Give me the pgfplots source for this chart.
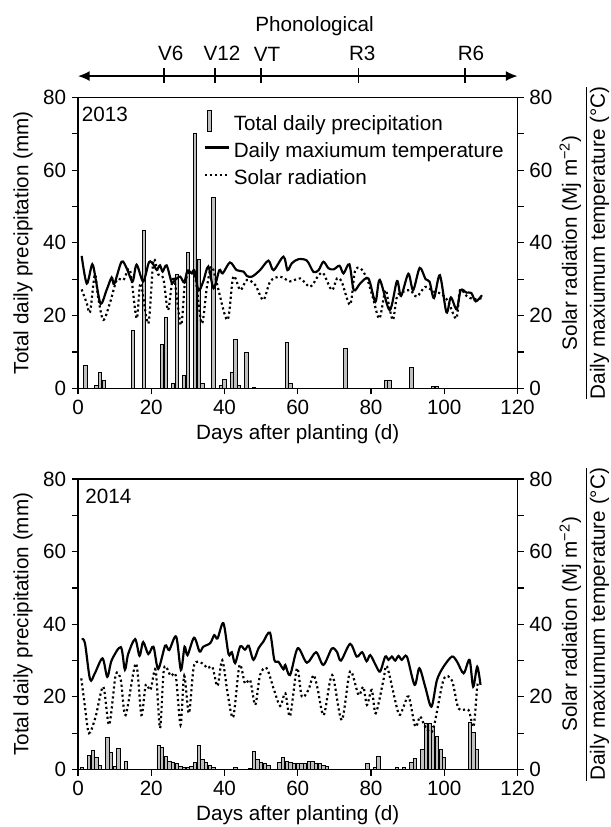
\documentclass[border=0pt]{standalone}
\usepackage{fontspec}
\setmainfont{Liberation Sans}
\usepackage{pgfplots}
\pgfplotsset{compat=1.18}
\usetikzlibrary{arrows.meta}

\pgfplotsset{
  base/.style={
    scale only axis, width=263.7pt,
    xmin=0, xmax=120, ymin=0, ymax=80,
    xtick={0,20,...,120}, ytick={0,20,...,80}, minor ytick={10,30,50,70},
    tick align=outside, major tick length=3.6pt, minor tick length=3.6pt,
    axis line style={line width=0.8pt},
    every tick/.style={line width=0.7pt, black},
    /pgf/number format/assume math mode=true,
  },
  leftax/.style={
    base, xtick pos=left, ytick pos=left, clip=false,
    xlabel={Days after planting (d)},
    ylabel={Total daily precipitation (mm)},
    xlabel style={at={([yshift=-27.6pt]axis description cs:0.5,0)}, anchor=center},
    ylabel style={at={([xshift=-33pt]axis description cs:0,0.5)}, anchor=center, rotate=0},
  },
  rightax/.style={
    base, hide x axis, axis y line*=right, ytick pos=right,
    ylabel={\begin{tabular}{@{}c@{}}Solar radiation (Mj m\textsuperscript{−2})\\[1pt]\hline\rule{0pt}{11pt}Daily maxiumum temperature (°C)\end{tabular}},
    ylabel style={at={([xshift=41pt]axis description cs:1,0.5)}, anchor=center, rotate=0},
  },
  barstyle/.style={ybar, bar width=0.9, fill=black!25, draw=black, line width=0.5pt},
  tempstyle/.style={black, line width=1.3pt, smooth, tension=0.5},
  solarstyle/.style={black, line width=1.3pt, dash pattern=on 1.3pt off 1.7pt, smooth, tension=0.5},
}

\begin{document}
\begin{tikzpicture}[font=\fontsize{12.4}{14.8}\selectfont]
\useasboundingbox (0,0) rectangle (366.6pt,496.2pt);

% ---------------- 2013 ----------------
\begin{axis}[leftax, at={(46.8pt,263.2pt)}, anchor=south west, height=174.6pt,
  legend style={draw=none, fill=none, at={(axis cs:34.2,76.6)}, anchor=north west,
    inner sep=0pt, column sep=2.4pt, row sep=3.5pt,
    nodes={inner sep=0pt, text height=9.3pt, text depth=3.5pt}},
  legend cell align=left]
\addplot[barstyle, legend image code/.code={\draw[fill=black!25,draw=black,line width=0.5pt] (1.8pt,-3.3pt) rectangle (4.2pt,9.1pt);}] coordinates {
(2,6.4)(5,0.8)(6,4.4)(7,2.1)(15,15.9)(18,43.4)(23,12.1)(24,19.5)(26,1.4)(27,31.3)
(29,3.5)(30,37.4)(32,70.0)(33,35.5)(34,1.4)(37,52.6)(39,0.9)(40,2.5)(42,4.3)(43,13.4)
(44,0.9)(46,9.8)(48,0.3)(57,12.7)(58,1.4)(73,10.9)(84,2.3)(85,2.3)(91,5.7)(97,0.6)(98,0.6)};
\addlegendentry{Total daily precipitation}
\addplot[tempstyle, legend image code/.code={\draw[black,line width=1.3pt] (0pt,3.2pt) -- (14.4pt,3.2pt);}] coordinates {
(1,36.4)(2.4,28.8)(3.9,34.1)(4.9,29.6)(6.2,23.2)(7.8,27.0)(9.2,30.5)(9.9,28.7)(11.9,34.8)
(13.3,33.0)(14.9,29.4)(16,34.0)(17.8,29.4)(19.4,34.7)(20.6,34.0)(21.5,32.6)(22.4,33.8)
(23.1,32.1)(24.2,33.8)(25.6,29.1)(26.5,29.8)(27.9,30.7)(29,29.1)(29.9,32.4)(31.1,31.6)
(31.8,32.4)(32.9,26.9)(34.2,29.4)(35.6,33.5)(37,27.5)(38.6,32.5)(39.5,31.6)(41.5,34.6)
(43.3,32.5)(45.2,32.1)(46.1,30.9)(47.5,30.7)(49.7,32.5)(52,35.1)(53.4,32.5)(56.1,36.2)
(57.2,32.5)(58.4,34.4)(60.2,35.5)(62.5,35.1)(64.3,32.0)(65.7,32.5)(67,34.8)(68.4,33.0)
(69.8,32.7)(71.4,33.7)(72.5,31.6)(74.1,34.1)(75.3,27.0)(77.1,28.9)(79.3,30.2)(81.2,23.8)
(82.4,29.8)(85.1,21.5)(87.1,29.5)(88.2,25.4)(90.2,31.5)(91.5,27.0)(93.3,33.1)(94.9,30.0)
(96.0,29.3)(97.2,24.8)(98.8,31.1)(100.6,20.9)(101.8,25.0)(103.4,21.7)(104.5,27.0)
(106.1,26.3)(107.4,26.2)(108.6,23.9)(110.3,25.6)};
\addlegendentry{Daily maxiumum temperature}
\addplot[solarstyle, legend image code/.code={\draw[black,line width=1.3pt,dash pattern=on 1.3pt off 1.7pt] (0pt,3.2pt) -- (14.4pt,3.2pt);}] coordinates {
(1,27.2)(2.4,23.4)(3.3,21.0)(4.6,31.3)(5.5,25)(6.9,18.8)(8.7,23.4)(10.6,29.8)(12.4,29.8)
(14.2,32.5)(16,19.2)(17.1,28.9)(19.2,17.8)(20.6,35.1)(21.9,31.3)(23.3,30.2)(24.6,21.5)
(26.1,30.7)(28.1,17.4)(29.2,28.9)(30.6,32.1)(32,30.7)(33.8,17.8)(35.2,27.9)(36.5,33.5)
(37.9,28.9)(40.8,18.8)(42.4,30.7)(44.3,27.0)(46.1,29.8)(48.4,28.4)(50.6,24.3)(52.5,29.4)
(55.2,30.7)(57.9,29.4)(60.7,30.2)(63.4,27.9)(65.7,31.1)(67,31.6)(69.3,27.0)(70.7,30.2)
(72,29.3)(74.3,23.0)(75.6,32.1)(77.1,33.0)(78.9,30.2)(80.5,25)(82.3,19.2)(83.9,27.0)
(84.8,23.4)(86,18.8)(87.1,25.2)(88.9,26.6)(90.7,27.0)(92.5,25.2)(94.8,27.9)(97.1,26.6)
(99,26.1)(101,24)(103.3,19.2)(104.3,27.0)(106.1,25.4)(108,24.5)(110.3,24.8)};
\addlegendentry{Solar radiation}
% phenology
\draw[line width=0.9pt, {Latex[length=7pt,width=6pt]}-{Latex[length=7pt,width=6pt]}] (axis cs:0,85.85) -- (axis cs:120,85.85);
\draw[line width=0.8pt] (axis cs:23.5,83.9) -- (axis cs:23.5,88.05);
\draw[line width=0.8pt] (axis cs:37.4,83.9) -- (axis cs:37.4,88.05);
\draw[line width=0.8pt] (axis cs:50.0,83.9) -- (axis cs:50.0,88.05);
\draw[line width=0.8pt] (axis cs:76.6,83.9) -- (axis cs:76.6,88.05);
\draw[line width=0.8pt] (axis cs:105.7,83.9) -- (axis cs:105.7,88.05);
\node[anchor=base] at (axis cs:25.3,90.25) {V6};
\node[anchor=base] at (axis cs:39.3,90.25) {V12};
\node[anchor=base] at (axis cs:51.6,89.9) {VT};
\node[anchor=base] at (axis cs:77.6,90.25) {R3};
\node[anchor=base] at (axis cs:107.3,90.25) {R6};
\node[anchor=base] at (axis cs:64.6,98.0) {Phonological};
\node[anchor=base west, inner sep=0pt] at (axis cs:1.0,73.3) {2013};
\end{axis}
\begin{axis}[rightax, at={(46.8pt,263.2pt)}, anchor=south west, height=174.6pt]
\addplot[draw=none] coordinates {(0,0)};
\end{axis}

% ---------------- 2014 ----------------
\begin{axis}[leftax, at={(46.8pt,34.5pt)}, anchor=south west, height=174.3pt,
  axis line style={line width=0.8pt}]
\addplot[barstyle] coordinates {
(1,0.6)(3,3.9)(4,5.2)(5,3.2)(6,1.1)(8,8.9)(9,4.6)(10,0.9)(11,5.7)(13,2.3)
(22,6.7)(23,6.0)(24,3.5)(25,2.3)(26,2.0)(27,1.6)(28,0.9)(29,0.5)
(30,0.5)(31,0.9)(32,2.0)(33,6.7)(34,2.8)(35,2.0)(36,1.1)(37,0.5)
(43,0.6)(47,0.3)(48,4.9)(49,2.8)(50,2.0)(51,1.6)(52,1.2)
(55,2.0)(56,3.2)(57,2.3)(58,2.0)(59,1.8)(60,1.8)(61,1.8)(62,1.8)(63,2.1)(64,2.1)
(65,1.8)(66,1.6)(67,1.1)(68,0.9)
(79,1.6)(81,0.5)(82,3.5)(87,0.6)(89,0.5)(91,2.0)(92,3.0)(94,5.5)(95,12.7)(96,12.7)
(97,12.0)(98,9.1)(99,5.5)(100,3.2)(107,12.9)(108,10.2)(109,5.5)};
\addplot[tempstyle] coordinates {
(1,35.9)(1.9,34.8)(3.3,24.8)(4.6,26.5)(6.7,30.6)(8,25.5)(9.2,30.1)(11.7,33.7)(12.8,27.5)
(13.7,31.8)(15.6,35.9)(16.8,31.3)(17.8,35.1)(19.2,31.8)(20.6,33.8)(21.9,27.7)(23.8,34.1)
(24.9,32.9)(26.8,36.6)(28.1,27.4)(29.1,33.8)(29.9,31.5)(31.7,36.3)(33.2,32.5)(34.2,33.8)
(36.1,34.8)(37.2,37.0)(38.1,36.1)(39.7,40.3)(41.1,31.8)(42,32.3)(42.9,29.3)(44.3,33.9)
(45.6,33.0)(46.6,34.1)(47.9,30.2)(49.3,33.4)(50.6,35.2)(52.4,37.7)(53.6,30.2)(54.7,29.7)
(56.1,27.6)(56.6,28.8)(57.9,26.0)(60.0,33.4)(62.5,29.4)(65.0,32.3)(67,28.8)(69.3,33.3)
(70.7,32.4)(71.8,30.0)(74.3,34.6)(76.1,31.1)(77.6,32.3)(78.8,29.8)(79.8,31.5)(81.4,28.5)
(82.5,27.0)(83.9,31.1)(84.8,30.2)(85.7,31.1)(86.6,30.0)(87.5,31.3)(88.4,30.2)(89.8,31.1)
(91.9,23.3)(93.2,27.9)(94.8,22.8)(96.5,17.3)(98,24.6)(99.8,28.3)(102.1,31.1)(103.5,29.7)
(105.3,26.5)(106.9,30.2)(107.9,22.8)(109,28.3)(109.9,23.3)};
\addplot[solarstyle] coordinates {
(0.9,25.1)(1.9,17.3)(3,10.0)(4.8,14.5)(6.9,22.8)(8.5,12.3)(10.3,26.0)(11.7,24.6)(13,15.0)
(15.8,29.2)(17.3,15.0)(18.5,23.3)(19.8,21.9)(21.2,27.4)(22.4,11.4)(23.5,27.9)(25.3,25.8)
(26.7,25.8)(28,12.3)(29,25.8)(30.3,15.5)(31.7,28.7)(34,29.2)(35.3,27.9)(36.7,28.2)
(38.1,23.0)(39.4,30.1)(41,20)(42.4,14.5)(44.1,28.7)(45.6,23.7)(47,24.6)(48.4,17.8)
(49.7,26.0)(51.5,27.9)(53.5,22)(55.2,17.5)(56.6,21.0)(57.9,14.7)(59.8,27.9)(61.1,20.1)
(62.9,21.9)(64.3,26.0)(65.4,22.4)(67.1,15.0)(69.4,26.0)(72,13.6)(74.3,27.0)(76.6,20.5)
(77.9,22.8)(78.9,17.8)(80.2,21.9)(81.3,15.5)(83.4,24.6)(84.4,28.3)(87.5,15.5)(88.9,17.3)
(90.3,20.1)(92.1,11.8)(93.4,14.6)(94.8,11.8)(96.9,10.9)(99.8,24.7)(102.1,24.5)
(103.9,16.8)(106.6,16.4)(108,11.8)(109,22.9)(109.4,23.3)};
\node[anchor=base west, inner sep=0pt] at (axis cs:1.9,73.3) {2014};
\end{axis}
\begin{axis}[rightax, at={(46.8pt,34.5pt)}, anchor=south west, height=174.3pt]
\addplot[draw=none] coordinates {(0,0)};
\end{axis}
\end{tikzpicture}
\end{document}
